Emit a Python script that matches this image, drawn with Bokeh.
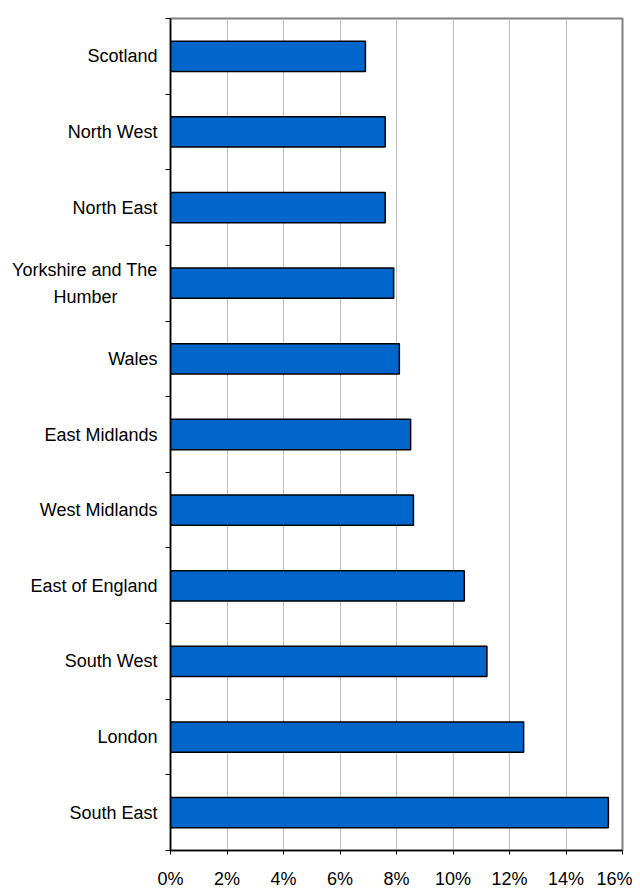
from bokeh.plotting import figure
from bokeh.models import ColumnDataSource, FixedTicker, PrintfTickFormatter, Range1d
from bokeh.embed import file_html
from bokeh.resources import INLINE

# Data (top to bottom as shown)
regions = ["Scotland", "North West", "North East", "Yorkshire and The\nHumber" + "\u00a0" * 8, "Wales",
           "East Midlands", "West Midlands", "East of England", "South West", "London", "South East"]
values = [6.9, 7.6, 7.6, 7.9, 8.1, 8.5, 8.6, 10.4, 11.2, 12.5, 15.5]
x_ticks = [0, 2, 4, 6, 8, 10, 12, 14, 16]

n = len(regions)
ypos = [n - 1 - i for i in range(n)]  # Scotland at top

src = ColumnDataSource(dict(y=ypos, v=values, name=regions))

p = figure(frame_width=452, frame_height=832, output_backend="svg", toolbar_location=None,
           x_range=Range1d(0, 16), y_range=Range1d(-0.5, n - 0.5),
           min_border_left=170, min_border_top=18, min_border_right=10, min_border_bottom=38)

p.hbar(y="y", right="v", left=0, height=0.4, source=src,
       fill_color="#0066CC", line_color="#000000", line_width=1.5)

p.background_fill_color = "white"
p.border_fill_color = "white"
p.outline_line_color = "#808080"
p.outline_line_width = 2

# x axis
p.xaxis.ticker = FixedTicker(ticks=x_ticks)
p.xaxis.formatter = PrintfTickFormatter(format="%d%%")
p.xaxis.axis_line_color = "black"
p.xaxis.axis_line_width = 1.5
p.xaxis.major_tick_line_color = "black"
p.xaxis.major_tick_out = 4
p.xaxis.major_tick_in = 0
p.xaxis.minor_tick_line_color = None
p.xaxis.major_label_text_font = "Liberation Sans"
p.xaxis.major_label_text_font_size = "18px"
p.xaxis.major_label_text_color = "black"
p.xaxis.major_label_standoff = 14

# y axis
p.yaxis.ticker = FixedTicker(ticks=ypos, minor_ticks=[k - 0.5 for k in range(n + 1)])
p.yaxis.major_label_overrides = {int(y): r for y, r in zip(ypos, regions)}
p.yaxis.axis_line_color = "black"
p.yaxis.axis_line_width = 1.5
p.yaxis.major_tick_out = 0
p.yaxis.major_tick_in = 0
p.yaxis.minor_tick_out = 5
p.yaxis.minor_tick_in = 0
p.yaxis.minor_tick_line_color = "black"
p.yaxis.major_label_text_font = "Liberation Sans"
p.yaxis.major_label_text_font_size = "18px"
p.yaxis.major_label_text_color = "black"
p.yaxis.major_label_text_line_height = 1.35
p.yaxis.major_label_standoff = 8

p.xgrid.grid_line_color = "#c0c0c0"
p.xgrid.grid_line_width = 1
p.ygrid.grid_line_color = None

open("out.html", "w").write(file_html(p, INLINE))
